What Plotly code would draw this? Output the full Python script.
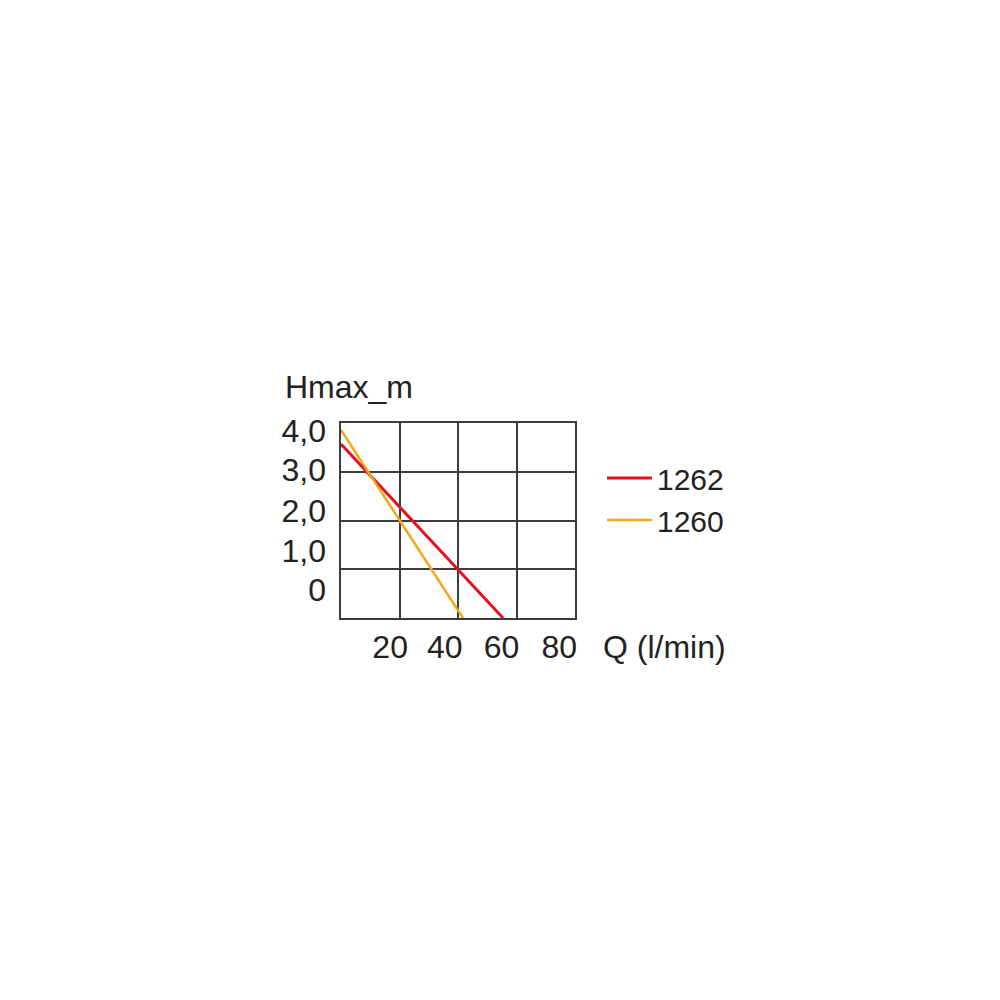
import plotly.graph_objects as go

# pump curves (Q in l/min, H in m)
q_1262 = [0, 55.4]
h_1262 = [3.57, 0]
q_1260 = [0, 41.7]
h_1260 = [3.86, 0]

# tick labels as printed on the sheet (they sit off the grid lines)
x_ticktext = ["20", "40", "60", "80"]
x_tickpos = [16.8, 35.5, 54.9, 74.6]
y_ticktext = ["4,0", "3,0", "2,0", "1,0", "0"]
y_tickpos = [3.85, 3.03, 2.19, 1.37, 0.57]

font = "Liberation Sans"
ink = "#222222"
grid = "#3c3c3c"

fig = go.Figure()
fig.add_trace(go.Scatter(x=q_1262, y=h_1262, mode="lines", name="1262",
                         line=dict(color="#e2121f", width=3)))
fig.add_trace(go.Scatter(x=q_1260, y=h_1260, mode="lines", name="1260",
                         line=dict(color="#f1a81c", width=2.5)))

axis_common = dict(showgrid=True, gridcolor=grid, gridwidth=2, showline=True,
                   linecolor=grid, linewidth=2, mirror=True, zeroline=False,
                   showticklabels=False, ticks="", fixedrange=True)

# the page body adds 8px on the left/top, so margins are offset by that
fig.update_layout(
    width=1000,
    height=1000,
    paper_bgcolor="white",
    plot_bgcolor="white",
    margin=dict(l=333, r=433, t=415, b=390),
    font=dict(family=font, size=32, color=ink),
    xaxis=dict(range=[0, 80], dtick=20, **axis_common),
    yaxis=dict(range=[0, 4], dtick=1, **axis_common),
    xaxis2=dict(overlaying="x", anchor="y", side="bottom", range=[0, 80],
                tickmode="array", tickvals=x_tickpos, ticktext=x_ticktext,
                showgrid=False, showline=False, zeroline=False, ticks="",
                ticklabelstandoff=7, tickfont=dict(size=32, color=ink)),
    yaxis2=dict(overlaying="y", anchor="x", side="left", range=[0, 4],
                tickmode="array", tickvals=y_tickpos, ticktext=y_ticktext,
                showgrid=False, showline=False, zeroline=False, ticks="",
                ticklabelstandoff=14, tickfont=dict(size=32, color=ink)),
    legend=dict(xref="container", yref="container", x=0.594, y=0.556,
                xanchor="left", yanchor="top", itemwidth=45,
                font=dict(size=30, color=ink), bgcolor="rgba(0,0,0,0)",
                tracegroupgap=0),
    annotations=[
        dict(text="Hmax_m", xref="paper", yref="paper", x=-0.25, y=1.185,
             xanchor="left", yanchor="middle", showarrow=False,
             font=dict(size=32, color=ink)),
        dict(text="Q (l/min)", xref="paper", yref="paper", x=1.11, y=-0.15,
             xanchor="left", yanchor="middle", showarrow=False,
             font=dict(size=32, color=ink)),
    ],
)

# empty trace so the overlay axes get drawn
fig.add_trace(go.Scatter(x=[None], y=[None], xaxis="x2", yaxis="y2",
                         showlegend=False, hoverinfo="skip"))

fig.write_html("out.html")
